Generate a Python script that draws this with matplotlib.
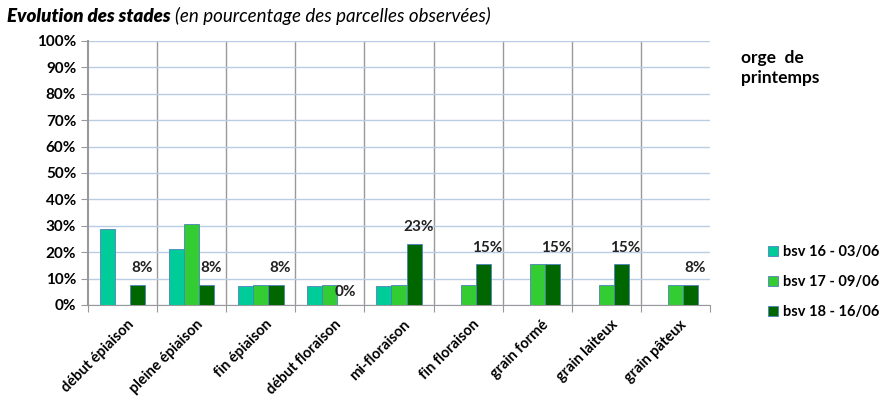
import matplotlib.pyplot as plt
import numpy as np

# donnees
stades = ['début épiaison', 'pleine épiaison', 'fin épiaison', 'début floraison',
          'mi-floraison', 'fin floraison', 'grain formé', 'grain laiteux', 'grain pâteux']
bsv16 = [28.6, 21.4, 7.1, 7.1, 7.1, 0, 0, 0, 0]
bsv17 = [0, 30.8, 7.7, 7.7, 7.7, 7.7, 15.4, 7.7, 7.7]
bsv18 = [7.7, 7.7, 7.7, 0, 23.1, 15.4, 15.4, 15.4, 7.7]
etiquettes = ['8%', '8%', '8%', '0%', '23%', '15%', '15%', '15%', '8%']
series = ['bsv 16 - 03/06', 'bsv 17 - 09/06', 'bsv 18 - 16/06']
couleurs = ['#00CC99', '#33CC33', '#006600']

plt.rcParams['font.family'] = ['Lato', 'DejaVu Sans']

fig = plt.figure(figsize=(8.85, 4.05), dpi=100)
ax = fig.add_axes([88 / 885, 1 - 305 / 405, 622 / 885, 264 / 405])

x = np.arange(len(stades))
w = 0.22
for k, (vals, nom, c) in enumerate(zip([bsv16, bsv17, bsv18], series, couleurs)):
    ax.bar(x + (k - 1) * w, vals, w, color=c, edgecolor='#4F81BD', linewidth=0.6,
           label=nom, zorder=3)

# etiquettes au-dessus des barres bsv 18
for i, (v, t) in enumerate(zip(bsv18, etiquettes)):
    dx, dy = (0, 4) if v == 0 else (3, 7)
    ax.annotate(t, (x[i] + w, v), xytext=(dx, dy), textcoords='offset points',
                ha='center', va='bottom', fontsize=11, fontweight='bold', color='#222222')

ax.set_xlim(-0.5, len(stades) - 0.5)
ax.set_ylim(0, 100)
ax.set_yticks(range(0, 101, 10))
ax.set_yticklabels([f'{v}%' for v in range(0, 101, 10)], fontsize=11, fontweight='bold')
ax.yaxis.grid(True, color='#B9CDE5', linewidth=1, zorder=0)
for b in np.arange(0.5, len(stades) - 0.5, 1):
    ax.axvline(b, color='#999999', linewidth=1, zorder=1)

ax.set_xticks(np.arange(-0.5, len(stades), 1))
ax.set_xticklabels([])
ax.set_xticks(x + 0.06, minor=True)
ax.set_xticklabels(stades, minor=True, rotation=45, ha='right', rotation_mode='anchor',
                   fontsize=10.5, fontweight='bold')
ax.tick_params(axis='x', which='minor', length=0, pad=9)
ax.tick_params(axis='x', which='major', length=5, color='#999999')
ax.tick_params(axis='y', length=5, color='#999999')

for s in ['top', 'right']:
    ax.spines[s].set_visible(False)
ax.spines['left'].set_color('#999999')
ax.spines['bottom'].set_color('#999999')
ax.spines['left'].set_linewidth(1.5)

h, l = ax.get_legend_handles_labels()
fig.legend(h, l, loc='center left', bbox_to_anchor=(768 / 885, 1 - 282 / 405),
           frameon=False, prop={'weight': 'bold', 'size': 10.5}, borderpad=0,
           borderaxespad=0, handlelength=0.7, handleheight=0.7, handletextpad=0.35,
           labelspacing=1.1)

fig.text(741 / 885, 1 - 68 / 405, 'orge  de\nprintemps', fontsize=12.5, fontweight='bold',
         va='center', ha='left', linespacing=1.35)

# titre en deux parties
t1 = fig.text(7 / 885, 1 - 16 / 405, 'Evolution des stades', fontsize=13.5,
              fontweight='heavy', style='italic', va='center')
fig.canvas.draw()
bb = t1.get_window_extent()
fig.text((bb.x1 + 4) / 885, 1 - 16 / 405, '(en pourcentage des parcelles observées)',
         fontsize=13.5, style='italic', va='center')

fig.savefig('out.png', dpi=100)
